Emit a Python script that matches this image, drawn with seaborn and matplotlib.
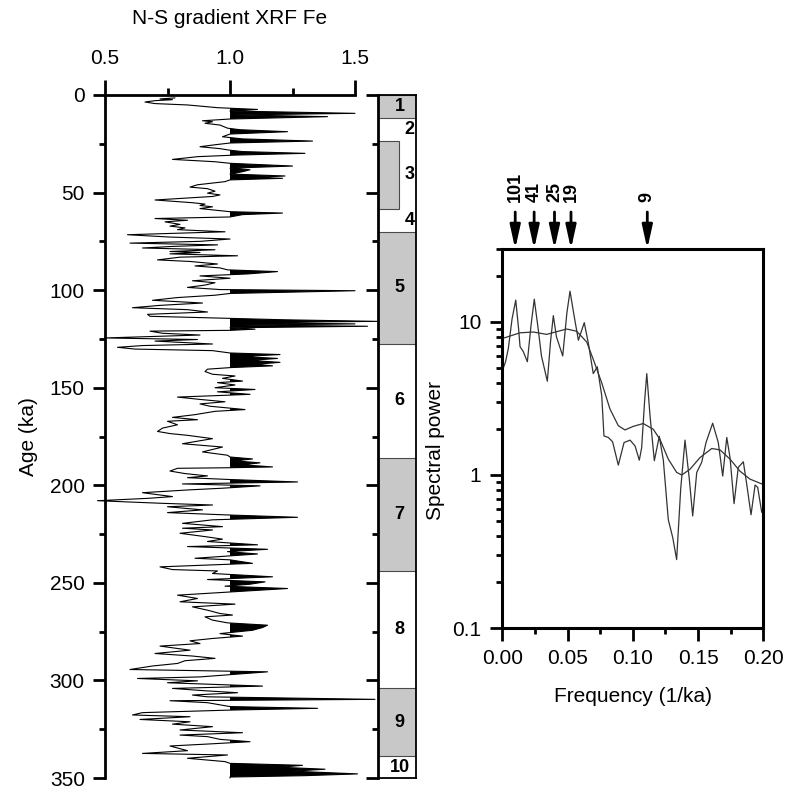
import numpy as np
import pandas as pd
import matplotlib
matplotlib.use("Agg")
import matplotlib.pyplot as plt
import seaborn as sns
from matplotlib.ticker import MultipleLocator, FixedLocator, LogLocator, NullFormatter, FixedFormatter

# ---------------- data ----------------
age_ka = [1.5, 2.0, 2.4, 2.9, 3.6, 4.4, 5.1, 6.5, 7.4, 8.2, 9.4, 10.2, 11.1, 12.3, 13.2, 13.7, 14.5, 15.4,
          17.0, 17.8, 18.8, 20.0, 21.4, 22.5, 23.6, 24.6, 25.5, 26.5, 27.5, 28.3, 29.0, 29.9, 30.8, 31.6,
          33.0, 34.2, 35.0, 36.4, 37.5, 38.3, 39.3, 40.5, 41.5, 42.2, 42.7, 43.5, 44.4, 46.0, 47.2, 48.0,
          49.3, 50.3, 51.2, 52.0, 53.8, 55.2, 55.9, 56.6, 57.3, 58.2, 59.0, 59.8, 60.5, 61.3, 62.5, 63.3,
          64.2, 65.0, 66.3, 67.2, 68.1, 69.0, 70.1, 71.6, 72.8, 73.8, 75.0, 75.9, 76.8, 77.6, 78.4, 79.3,
          80.2, 80.7, 81.4, 82.4, 83.1, 84.5, 85.3, 86.6, 87.6, 88.6, 89.6, 90.5, 91.7, 92.7, 93.9, 95.2,
          96.2, 97.4, 98.6, 99.7, 100.3, 101.7, 102.6, 103.8, 105.2, 106.6, 107.8, 109.0, 110.0, 111.2,
          112.4, 113.4, 114.5, 115.2, 116.0, 116.6, 117.3, 117.9, 118.5, 119.3, 120.0, 120.6, 121.0, 122.1,
          123.0, 123.7, 124.5, 125.3, 126.1, 127.6, 128.4, 129.3, 130.2, 131.0, 132.2, 133.0, 134.0, 135.0,
          136.0, 137.0, 138.0, 138.8, 139.7, 140.5, 141.7, 143.1, 144.0, 145.2, 146.6, 147.4, 148.6, 150.0,
          150.9, 152.1, 153.4, 154.8, 156.0, 157.2, 158.3, 159.5, 161.2, 162.1, 163.8, 165.2, 166.4, 167.2,
          169.0, 170.7, 172.4, 173.5, 174.4, 176.1, 178.7, 180.4, 182.9, 184.6, 185.5, 186.5, 187.5, 188.5,
          189.5, 190.6, 191.0, 191.3, 192.7, 194.0, 195.2, 196.1, 197.0, 198.3, 199.3, 200.3, 201.5, 202.4,
          203.8, 205.0, 205.8, 206.7, 207.9, 209.2, 210.1, 211.0, 212.6, 214.0, 215.2, 216.4, 217.7, 219.5,
          221.2, 222.0, 222.9, 224.6, 226.3, 227.6, 228.8, 230.5, 231.4, 232.8, 234.0, 235.2, 236.5, 237.4,
          238.2, 240.0, 241.8, 243.2, 243.9, 245.2, 246.9, 248.3, 249.5, 250.7, 251.7, 252.9, 254.6, 256.3,
          258.0, 259.7, 260.9, 262.3, 264.0, 265.7, 266.5, 267.4, 269.1, 270.5, 271.7, 272.9, 274.3, 276.0,
          277.3, 278.5, 279.7, 281.1, 282.4, 284.5, 286.2, 287.5, 288.7, 289.9, 291.3, 292.6, 294.4, 295.6,
          298.2, 299.0, 300.2, 301.2, 302.9, 304.1, 305.3, 306.3, 307.5, 308.4, 309.7, 310.4, 311.4, 313.4,
          314.3, 315.2, 316.5, 317.7, 318.6, 320.0, 321.2, 322.4, 323.7, 325.4, 326.8, 328.0, 328.8, 330.2,
          331.4, 332.6, 333.6, 336.0, 337.4, 338.2, 339.9, 341.6, 342.5, 343.5, 344.5, 345.5, 346.5, 347.9,
          348.8, 349.5, 350.0]
fe_gradient = [0.78, 0.72, 0.77, 0.70, 0.66, 0.70, 0.83, 0.95, 1.11, 1.00, 1.50, 1.02, 1.39, 1.00, 0.89, 0.93, 0.90, 0.96,
               0.99, 1.04, 1.23, 1.00, 0.97, 1.05, 1.33, 1.00, 0.94, 0.88, 0.96, 1.00, 1.05, 1.30, 1.02, 0.87,
               0.77, 0.94, 1.00, 1.25, 1.00, 1.08, 1.05, 1.00, 1.22, 1.10, 1.21, 1.00, 0.98, 0.87, 0.84, 0.91,
               0.94, 0.91, 0.96, 0.93, 0.70, 0.85, 0.90, 0.88, 0.93, 0.88, 0.94, 1.00, 1.21, 1.05, 1.00, 0.70,
               0.83, 0.74, 0.80, 0.76, 0.82, 0.79, 0.98, 0.59, 0.76, 1.00, 0.88, 0.60, 0.95, 0.77, 0.65, 0.94,
               0.76, 0.88, 0.76, 1.03, 0.80, 0.71, 0.84, 0.95, 0.86, 0.96, 0.99, 1.19, 1.07, 0.88, 1.00, 0.85,
               0.94, 0.90, 0.83, 0.96, 1.50, 1.00, 0.94, 0.79, 0.69, 0.89, 0.72, 0.61, 0.83, 0.91,
               0.67, 0.68, 1.00, 1.22, 1.59, 1.05, 1.50, 1.05, 1.55, 1.00, 1.10, 1.00, 0.68, 0.73,
               0.88, 0.70, 0.50, 0.87, 0.70, 0.93, 0.65, 0.55, 0.62, 0.93, 1.00, 1.20, 1.05, 1.19,
               1.08, 1.20, 1.10, 1.17, 1.00, 0.91, 0.90, 0.93, 1.02, 0.97, 1.05, 0.95, 1.02, 0.94,
               1.10, 0.95, 1.08, 0.79, 0.88, 0.98, 0.88, 0.92, 1.06, 0.94, 0.86, 0.77, 0.87, 0.75,
               0.79, 0.73, 0.71, 0.76, 0.83, 0.93, 0.81, 0.97, 0.89, 0.99, 1.00, 1.09, 1.02, 1.12,
               1.05, 1.17, 1.00, 0.79, 0.76, 0.82, 0.91, 0.83, 0.99, 1.27, 0.81, 1.12, 0.97, 0.83,
               0.65, 0.72, 0.77, 0.67, 0.47, 0.72, 0.93, 0.75, 0.89, 0.75, 0.99, 1.27, 0.93, 0.81,
               0.97, 0.81, 0.93, 0.80, 0.90, 0.97, 0.91, 1.11, 0.83, 1.15, 0.99, 1.11, 0.96, 0.86,
               1.00, 1.09, 0.72, 0.77, 0.95, 0.93, 1.17, 0.91, 1.14, 1.08, 0.98, 1.23, 1.01, 0.79,
               0.87, 0.80, 1.02, 0.85, 0.91, 0.96, 1.01, 0.90, 0.93, 0.99, 1.15, 1.13, 1.09, 0.96,
               1.05, 0.93, 0.84, 0.88, 0.72, 0.84, 0.70, 0.85, 0.94, 0.82, 0.79, 0.69, 0.60, 1.15,
               0.88, 0.63, 0.87, 0.75, 1.13, 0.77, 0.90, 1.03, 0.85, 0.91, 1.58, 0.76, 0.91, 1.00,
               1.35, 1.00, 0.65, 0.61, 0.84, 0.64, 0.84, 0.77, 0.93, 0.80, 1.05, 0.80, 0.91, 0.96,
               1.08, 0.91, 0.76, 0.83, 0.65, 0.99, 0.83, 0.98, 1.00, 1.29, 1.20, 1.38, 1.25, 1.51,
               1.30, 1.00, 1.00]

mis_bounds = [0, 11.6, 23.6, 58.3, 70.2, 127.6, 186.0, 244.0, 303.8, 338.9, 350.0]
mis_labels = ["1", "2", "3", "4", "5", "6", "7", "8", "9", "10"]

freq_raw = [0.0, 0.0025, 0.0046, 0.0075, 0.0103, 0.0125, 0.0136, 0.0161, 0.0192, 0.0220, 0.0245, 0.0275,
            0.0300, 0.0345, 0.0370, 0.0391, 0.0415, 0.0463, 0.0495, 0.0519, 0.0550, 0.0583,
            0.0628, 0.0659, 0.0697, 0.0728, 0.0762, 0.0779, 0.0812, 0.0845, 0.0889, 0.0933, 0.0979, 0.1017,
            0.1050, 0.1068, 0.1090, 0.1107, 0.1132, 0.1165, 0.1203, 0.1234, 0.1272, 0.1306, 0.1336, 0.1367, 0.1400,
            0.1433, 0.1459, 0.1490, 0.1528, 0.1561, 0.1612, 0.1655, 0.1689, 0.1720, 0.1745, 0.1776, 0.1808,
            0.1847, 0.1873, 0.1906, 0.1937, 0.1957, 0.1988, 0.2000]
power_raw = [4.8, 5.5, 6.7, 10.5, 13.9, 9.0, 6.9, 6.4, 5.5, 9.5, 14.1, 9.0,
             6.0, 4.1, 7.5, 11.0, 8.0, 6.0, 11.5, 15.9, 11.0, 7.6,
             9.9, 7.3, 4.6, 5.1, 3.3, 1.8, 1.76, 1.65, 1.16, 1.63, 1.69, 1.55,
             1.25, 1.51, 3.0, 4.6, 2.44, 1.24, 1.79, 1.25, 0.51, 0.39, 0.28, 0.81, 1.69,
             0.94, 0.54, 1.04, 1.21, 1.63, 2.18, 1.63, 0.985, 1.76, 1.30, 0.65, 1.12,
             1.22, 0.87, 0.55, 0.86, 0.83, 0.57, 0.62]

freq_smooth = [0.0, 0.0136, 0.0238, 0.0340, 0.0493, 0.0570, 0.0647, 0.0697, 0.0762, 0.0825, 0.0889, 0.0940,
               0.1004, 0.1080, 0.1157, 0.1208, 0.1272, 0.1336, 0.1375, 0.1438, 0.1515, 0.1605, 0.1668,
               0.1745, 0.1821, 0.1898, 0.1995]
power_smooth = [7.8, 8.5, 8.6, 8.3, 9.0, 8.7, 7.4, 5.7, 4.0, 2.7, 2.1, 1.97,
                2.08, 2.17, 1.99, 1.71, 1.27, 1.04, 1.0, 1.09, 1.30, 1.49, 1.46,
                1.27, 1.06, 0.94, 0.87]

periods_ka = [101, 41, 25, 19, 9]

# ---------------- style ----------------
sns.set_style("ticks")
plt.rcParams["font.family"] = ["Liberation Sans", "DejaVu Sans"]
plt.rcParams.update({
    "axes.linewidth": 2.0,
    "axes.edgecolor": "black",
    "text.color": "black",
    "axes.labelcolor": "black",
    "xtick.color": "black",
    "ytick.color": "black",
})

FS = 15
W, H = 787, 790
fig = plt.figure(figsize=(W / 100, H / 100), dpi=100)

# ---------------- left panel ----------------
L0, L1, T0, B0 = 105, 355, 95, 778
ax1 = fig.add_axes([L0 / W, 1 - B0 / H, (L1 - L0) / W, (B0 - T0) / H])
age_arr = np.array(age_ka)
fe_arr = np.array(fe_gradient)
ax1.fill_betweenx(age_arr, 1.0, fe_arr, where=fe_arr > 1.0, interpolate=True,
                  color="black", lw=0, clip_on=False)
sns.lineplot(x=fe_arr, y=age_arr, orient="y", sort=False, estimator=None,
             color="black", lw=0.8, ax=ax1)
for l in ax1.lines:
    l.set_clip_on(False)
ax1.set_xlim(0.5, 1.5)
ax1.set_ylim(350, 0)
ax1.xaxis.tick_top()
ax1.xaxis.set_major_locator(FixedLocator([0.5, 1.0, 1.5]))
ax1.xaxis.set_major_formatter(FixedFormatter(["0.5", "1.0", "1.5"]))
ax1.xaxis.set_minor_locator(FixedLocator([0.75, 1.25]))
ax1.yaxis.set_major_locator(MultipleLocator(50))
ax1.yaxis.set_minor_locator(MultipleLocator(25))
ax1.tick_params(axis="x", which="major", direction="out", length=11, width=2, labelsize=FS, pad=8.5)
ax1.tick_params(axis="x", which="minor", direction="out", length=5, width=2)
ax1.tick_params(axis="y", which="major", direction="out", length=9, width=2, labelsize=FS, pad=5.5)
ax1.tick_params(axis="y", which="minor", direction="out", length=4, width=2)
for s in ["right", "bottom"]:
    ax1.spines[s].set_visible(False)
ax1.set_xlabel("N-S gradient XRF Fe", fontsize=FS)
ax1.xaxis.set_label_position("top")
ax1.xaxis.set_label_coords(0.5, (B0 - 18) / (B0 - T0))
ax1.xaxis.label.set_va("center")
ax1.set_ylabel("Age (ka)", fontsize=FS)
ax1.yaxis.set_label_coords((28 - L0) / (L1 - L0), 0.5)
ax1.yaxis.label.set_va("center")

# ---------------- MIS column ----------------
M0, M1 = 378, 416
ax2 = fig.add_axes([M0 / W, 1 - B0 / H, (M1 - M0) / W, (B0 - T0) / H])
ax2.set_xlim(0, 1)
ax2.set_ylim(350, 0)
for i, lab in enumerate(mis_labels):
    top, bot = mis_bounds[i], mis_bounds[i + 1]
    mid = (top + bot) / 2
    if i % 2 == 0:
        width = 0.55 if lab == "3" else 1.0
        ax2.barh(mid, width, height=bot - top, left=0, color="#c8c8c8",
                 edgecolor="#4a4a4a", lw=0.8)
    if lab in ("2", "3", "4"):
        ax2.text(0.97, mid, lab, ha="right", va="center", fontsize=13, fontweight="bold")
    else:
        ax2.text(0.57, mid, lab, ha="center", va="center", fontsize=13, fontweight="bold")
ax2.set_xticks([])
ax2.yaxis.set_major_locator(MultipleLocator(50))
ax2.yaxis.set_minor_locator(MultipleLocator(25))
ax2.yaxis.set_major_formatter(NullFormatter())
ax2.tick_params(axis="y", which="major", direction="out", length=9, width=2)
ax2.tick_params(axis="y", which="minor", direction="out", length=4, width=2)
for s in ["top", "right", "bottom"]:
    ax2.spines[s].set_linewidth(1.3)
ax2.spines["left"].set_linewidth(2.0)

# ---------------- spectrum ----------------
R0, R1, RT, RB = 502.3, 763.3, 249, 628
ax3 = fig.add_axes([R0 / W, 1 - RB / H, (R1 - R0) / W, (RB - RT) / H])
sns.lineplot(x=freq_raw, y=power_raw, sort=False, estimator=None, color="#333333", lw=0.9, ax=ax3)
sns.lineplot(x=freq_smooth, y=power_smooth, sort=False, estimator=None, color="#333333", lw=0.9, ax=ax3)
ax3.set_yscale("log")
ax3.set_xlim(0, 0.2)
ax3.set_ylim(0.1, 30)
ax3.xaxis.set_major_locator(FixedLocator([0, 0.05, 0.10, 0.15, 0.20]))
ax3.xaxis.set_major_formatter(FixedFormatter(["0.00", "0.05", "0.10", "0.15", "0.20"]))
ax3.xaxis.set_minor_locator(MultipleLocator(0.025))
ax3.yaxis.set_major_locator(FixedLocator([0.1, 1, 10]))
ax3.yaxis.set_major_formatter(FixedFormatter(["0.1", "1", "10"]))
ax3.yaxis.set_minor_locator(LogLocator(base=10, subs=np.arange(2, 10) * 1.0, numticks=20))
ax3.yaxis.set_minor_formatter(NullFormatter())
ax3.tick_params(which="major", direction="out", length=9, width=2, labelsize=FS, pad=6)
ax3.tick_params(which="minor", direction="out", length=4.3, width=2)
for s in ax3.spines.values():
    s.set_linewidth(2.2)
ax3.set_xlabel("Frequency (1/ka)", fontsize=FS)
ax3.xaxis.set_label_coords(0.5, (RB - 697) / (RB - RT))
ax3.xaxis.label.set_va("center")
ax3.set_ylabel("Spectral power", fontsize=FS)
ax3.yaxis.set_label_coords((435 - R0) / (R1 - R0), (RB - 451) / (RB - RT))
ax3.yaxis.label.set_va("center")

for p in periods_ka:
    f = 1.0 / p
    ax3.annotate("", xy=(f, 1.0), xycoords=("data", "axes fraction"),
                 xytext=(f, (RB - 212) / (RB - RT)), textcoords=("data", "axes fraction"),
                 arrowprops=dict(arrowstyle="-|>,head_length=1.0,head_width=0.22",
                                 mutation_scale=14, lw=2, color="black",
                                 shrinkA=0, shrinkB=0))
    ax3.text(f, (RB - 202) / (RB - RT), str(p), transform=ax3.get_xaxis_transform(),
             rotation=90, ha="center", va="bottom", fontsize=13, fontweight="bold")

fig.savefig("out.png", dpi=100, facecolor="white")
